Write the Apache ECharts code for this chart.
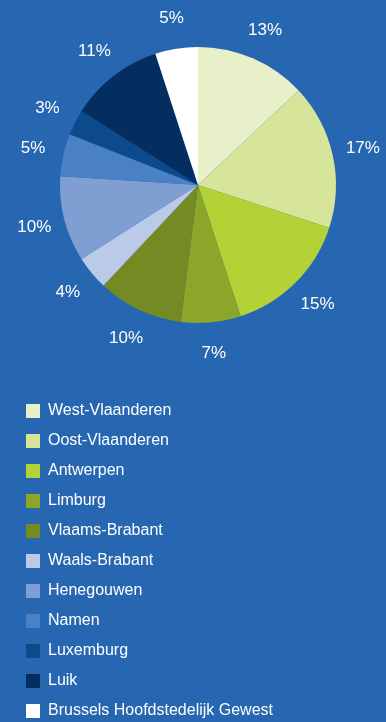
<!DOCTYPE html>
<html>
<head>
<meta charset="utf-8">
<script src="https://cdn.jsdelivr.net/npm/echarts@6/dist/echarts.min.js"></script>
<style>
  html, body { margin: 0; padding: 0; background: #2767b1; }
  #chart { width: 386px; height: 722px; }
</style>
</head>
<body>
<div id="chart"></div>
<script>
// Provinces and their share (%)
const provinces = [
  'West-Vlaanderen', 'Oost-Vlaanderen', 'Antwerpen', 'Limburg', 'Vlaams-Brabant',
  'Waals-Brabant', 'Henegouwen', 'Namen', 'Luxemburg', 'Luik',
  'Brussels Hoofdstedelijk Gewest'
];
const shares = [13, 17, 15, 7, 10, 4, 10, 5, 3, 11, 5];
const sliceColors = [
  '#e8f0c9', '#d7e59b', '#b3d235', '#8ca62a', '#738b22',
  '#bacae8', '#7f9fd3', '#4a80c4', '#0c4a8b', '#032e5f',
  '#ffffff'
];

const FONT = '"Liberation Sans", Arial, sans-serif';
const center = [198, 185];

const data = provinces.map((name, i) => ({
  name,
  value: shares[i],
  itemStyle: { color: sliceColors[i] }
}));

const chart = echarts.init(document.getElementById('chart'));
chart.setOption({
  backgroundColor: '#2767b1',
  animation: false,
  legend: {
    orient: 'vertical',
    left: 26,
    top: 402,
    padding: 0,
    itemWidth: 14,
    itemHeight: 14,
    itemGap: 12,
    icon: 'rect',
    selectedMode: false,
    data: provinces,
    textStyle: { color: '#ffffff', fontSize: 16, fontFamily: FONT, lineHeight: 18, padding: [0, 0, 0, 3] }
  },
  series: [
    {
      type: 'pie',
      center,
      radius: [0, 138],
      startAngle: 90,
      clockwise: true,
      silent: true,
      label: { show: false },
      labelLine: { show: false },
      itemStyle: { borderWidth: 0 },
      data
    },
    {
      // invisible ring that carries the percentage labels
      type: 'pie',
      center,
      radius: [156, 176],
      startAngle: 90,
      clockwise: true,
      silent: true,
      itemStyle: { color: 'rgba(0,0,0,0)', borderWidth: 0 },
      label: {
        show: true,
        position: 'inside',
        formatter: '{c}%',
        color: '#ffffff',
        fontSize: 17,
        fontFamily: FONT
      },
      labelLine: { show: false },
      data: provinces.map((name, i) => ({ name, value: shares[i] }))
    }
  ]
});
</script>
</body>
</html>
